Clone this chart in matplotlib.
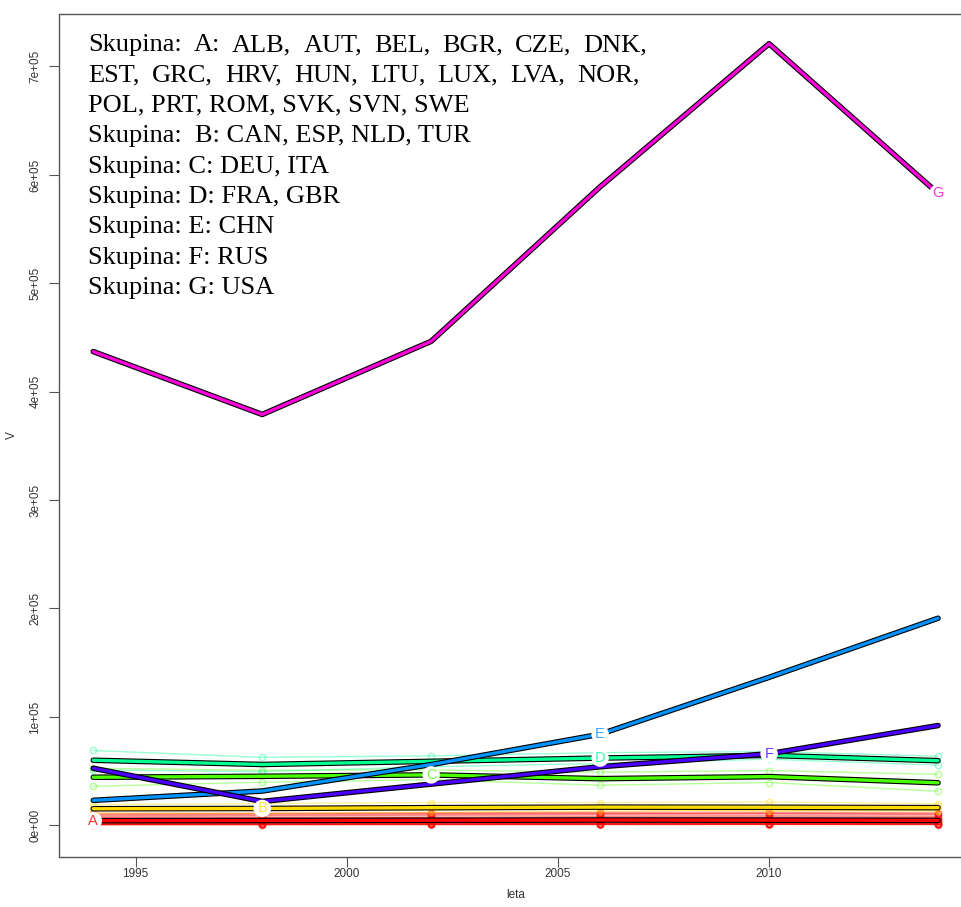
import numpy as np
import matplotlib
matplotlib.use("Agg")
import matplotlib.pyplot as plt

# ---- data -------------------------------------------------------------
years = [1994, 1998, 2002, 2006, 2010, 2014]

group_letters = ["A", "B", "C", "D", "E", "F", "G"]
group_colors = ["#FF0000", "#FFDB00", "#49FF00", "#00FF92",
                "#0092FF", "#4900FF", "#FF00DB"]
# year at which each group's letter is written
label_years = [1994, 1998, 2002, 2006, 2006, 2010, 2014]

# values in thousands
countries_A = ["ALB", "AUT", "BEL", "BGR", "CZE", "DNK", "EST", "GRC", "HRV", "HUN",
               "LTU", "LUX", "LVA", "NOR", "POL", "PRT", "ROM", "SVK", "SVN", "SWE"]
values_A = [
    [0.5, 0.5, 0.6, 0.6, 0.7, 0.7],
    [8.0, 8.5, 9.0, 9.5, 9.0, 8.5],
    [10.0, 10.5, 11.0, 11.0, 10.5, 10.0],
    [3.0, 3.0, 3.2, 3.5, 3.5, 3.4],
    [7.0, 7.0, 7.5, 8.0, 7.8, 7.5],
    [5.5, 5.8, 6.0, 6.0, 5.8, 5.5],
    [0.8, 0.9, 1.0, 1.1, 1.1, 1.1],
    [4.0, 4.2, 4.5, 4.8, 4.6, 4.0],
    [1.5, 1.6, 1.7, 1.8, 1.7, 1.6],
    [3.5, 3.6, 3.8, 4.0, 3.9, 3.7],
    [1.2, 1.3, 1.4, 1.5, 1.5, 1.4],
    [0.6, 0.7, 0.8, 0.9, 0.9, 0.8],
    [0.9, 1.0, 1.1, 1.2, 1.2, 1.1],
    [9.0, 9.5, 10.0, 10.5, 11.0, 10.5],
    [11.0, 11.0, 11.5, 12.0, 12.0, 11.5],
    [3.8, 4.0, 4.3, 4.6, 4.4, 4.0],
    [4.5, 4.5, 4.7, 5.0, 5.0, 4.8],
    [2.2, 2.3, 2.5, 2.6, 2.5, 2.4],
    [0.9, 1.0, 1.1, 1.2, 1.2, 1.1],
    [6.5, 6.8, 7.0, 7.2, 7.0, 6.8],
]
countries_B = ["CAN", "ESP", "NLD", "TUR"]
values_B = [
    [19.0, 20.0, 21.0, 21.0, 21.5, 20.0],
    [17.0, 17.0, 18.0, 18.0, 18.0, 18.0],
    [14.0, 14.0, 14.0, 15.0, 13.0, 14.0],
    [11.0, 11.0, 12.0, 13.0, 14.0, 13.0],
]
countries_C = ["DEU", "ITA"]
values_C = [
    [52.6, 50.7, 51.0, 49.0, 50.4, 47.0],
    [36.0, 39.7, 42.0, 37.0, 39.4, 31.4],
]
countries_D = ["FRA", "GBR"]
values_D = [
    [69.0, 62.7, 64.0, 67.0, 68.0, 63.7],
    [51.0, 49.5, 54.0, 57.0, 61.0, 55.5],
]
countries_E = ["CHN"]
values_E = [[23.0, 31.6, 56.0, 84.0, 136.5, 191.0]]
countries_F = ["RUS"]
values_F = [[52.6, 22.0, 38.0, 54.0, 66.0, 92.0]]
countries_G = ["USA"]
values_G = [[437.0, 379.0, 446.5, 589.0, 721.0, 583.0]]

UNIT = 1000.0

group_countries = [countries_A, countries_B, countries_C, countries_D,
                   countries_E, countries_F, countries_G]
group_values = [values_A, values_B, values_C, values_D,
                values_E, values_F, values_G]

# ---- figure -----------------------------------------------------------
W, H = 962, 907
fig = plt.figure(figsize=(W / 100, H / 100), dpi=100)

px_left, px_right, px_top, px_bottom = 59.5, 971.8, 13.6, 856.5
ax = fig.add_axes([px_left / W, 1 - px_bottom / H,
                   (px_right - px_left) / W, (px_bottom - px_top) / H])

x = np.array(years, dtype=float)

# individual countries of multi-member groups: thin pale lines, open circles
for vals, col in zip(group_values, group_colors):
    if len(vals) < 2:
        continue
    for row in vals:
        ax.plot(x, np.array(row) * UNIT, color=col, alpha=0.4, lw=1.0,
                marker="o", ms=4.5, mfc="none", mew=1.0, zorder=2)

# group means: thick coloured line on a black outline
means = []
for vals, col in zip(group_values, group_colors):
    m = np.mean(np.array(vals) * UNIT, axis=0)
    means.append(m)
    ax.plot(x, m, color="black", lw=4.0, solid_capstyle="round",
            solid_joinstyle="round", zorder=3)
    ax.plot(x, m, color=col, lw=2.4, solid_capstyle="round",
            solid_joinstyle="round", zorder=3)

# group letters on the mean lines
for letter, col, ly, m in zip(group_letters, group_colors, label_years, means):
    yv = m[years.index(ly)]
    ax.text(ly, yv, letter, color=col, alpha=0.8, fontsize=10.5,
            family="Liberation Sans", ha="center", va="center", zorder=5,
            bbox=dict(boxstyle="circle,pad=0.12", fc="white", ec="none"))

# axes styling
ax.set_xlim(1993.2, 2014.8)
ax.set_ylim(-28800, 748800)
ax.set_xticks([1995, 2000, 2005, 2010])
yt = np.arange(0, 800000, 100000)
ax.set_yticks(yt)
ax.set_yticklabels(["0e+00"] + [f"{int(v // 100000)}e+05" for v in yt[1:]],
                   rotation=90, va="center")
for sp in ax.spines.values():
    sp.set_color("#555555")
    sp.set_linewidth(1.0)
ax.tick_params(direction="out", length=7, width=0.8, color="#555555",
               labelcolor="#333333", labelsize=8.5)
ax.tick_params(axis="x", pad=1.5)
ax.tick_params(axis="y", pad=6)
for lab in ax.get_xticklabels() + ax.get_yticklabels():
    lab.set_family("Liberation Sans")
ax.set_xlabel("leta", fontsize=8.5, color="#333333", family="Liberation Sans",
              labelpad=6)
ax.set_ylabel("V", fontsize=8.5, color="#333333", family="Liberation Sans",
              labelpad=8)

# ---- group membership text (top left) ---------------------------------
renderer = fig.canvas.get_renderer()
text_kw = dict(fontsize=19, family="Liberation Serif", color="black",
               va="baseline", ha="left")
x0_px = 88
base0 = 51
step = 30.4


def fig_xy(px, py):
    return px / W, 1 - py / H


def justified_line(words, py, right_px):
    widths = []
    for w in words:
        t = fig.text(0, 0, w, **text_kw)
        widths.append(t.get_window_extent(renderer).width)
        t.remove()
    gap = (right_px - x0_px - sum(widths)) / (len(words) - 1)
    cx = x0_px
    for w, wd in zip(words, widths):
        fig.text(*fig_xy(cx, py), w, **text_kw)
        cx += wd + gap


justified_line(["Skupina:", "A:"] + [c + "," for c in countries_A[:6]],
               base0, 647)
justified_line([c + "," for c in countries_A[6:14]], base0 + step, 640)
other_lines = [", ".join(countries_A[14:]),
               "Skupina:  B: " + ", ".join(countries_B)]
for letter, names in zip(group_letters[2:], group_countries[2:]):
    other_lines.append(f"Skupina: {letter}: " + ", ".join(names))
for i, line in enumerate(other_lines):
    fig.text(*fig_xy(x0_px, base0 + (i + 2) * step), line, **text_kw)

fig.savefig("out.png", dpi=100)
